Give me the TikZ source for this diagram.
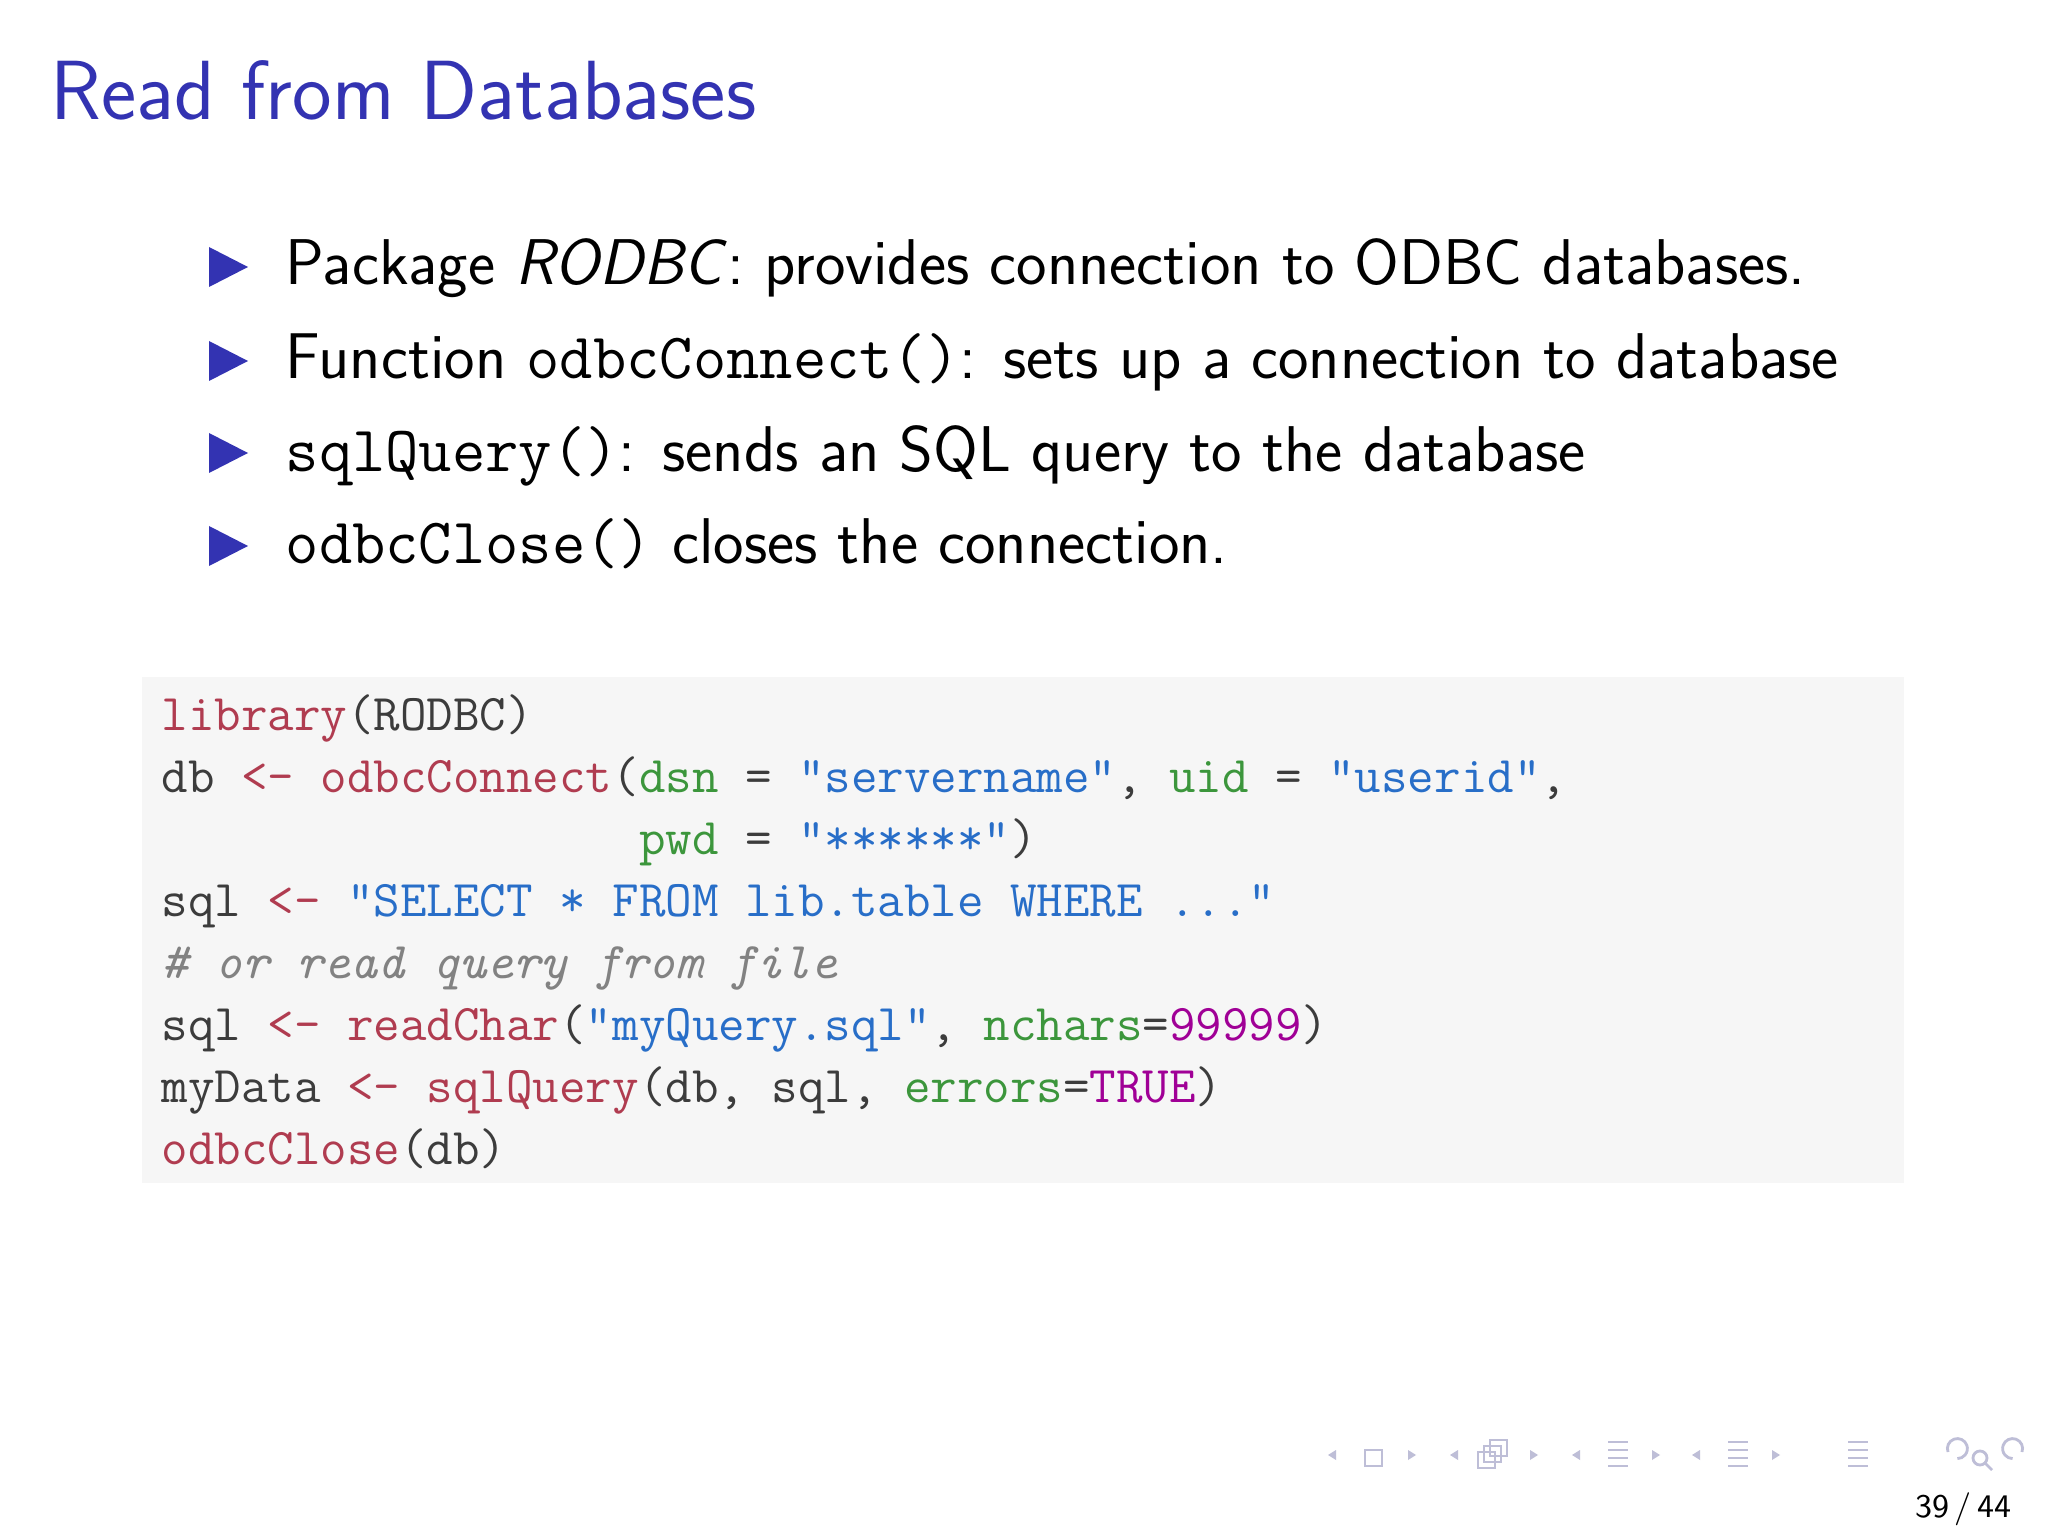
\documentclass[tikz,border=0pt]{standalone}
\usepackage{xcolor}
\definecolor{ttl}{RGB}{51,51,178}
\definecolor{kw}{RGB}{176,60,80}
\definecolor{str}{RGB}{40,110,200}
\definecolor{arg}{RGB}{60,150,60}
\definecolor{num}{RGB}{160,0,150}
\definecolor{cmt}{RGB}{130,130,130}
\definecolor{txt}{RGB}{60,60,60}
\definecolor{codebg}{RGB}{246,246,246}
\definecolor{nav}{RGB}{190,190,215}
\begin{document}
\begin{tikzpicture}[x=1cm,y=1cm,
  title/.style={anchor=base west,inner sep=0pt,font=\fontsize{23.9pt}{29pt}\selectfont\sffamily,text=ttl},
  bul/.style={anchor=base west,inner sep=0pt,font=\fontsize{18.4pt}{22pt}\selectfont\sffamily},
  code/.style={anchor=base west,inner sep=0pt,font=\fontsize{14.65pt}{17pt}\selectfont\ttfamily,text=txt},
  tri/.style={fill=ttl}]
\useasboundingbox (0,0) rectangle (20.48,-15.36);
\fill[white] (0,0) rectangle (20.48,-15.36);
\node[title] (t) at (0.50,-1.20) {Read from Databases};
\foreach \y/\n in {2.85/a,3.79/b,4.71/c,5.64/d}{
  \fill[tri] (2.09,-\y+0.38) -- (2.48,-\y+0.18) -- (2.09,-\y-0.02) -- cycle;}
\node[bul] (b1) at (2.85,-2.85) {Package \textit{RODBC}: provides connection to ODBC databases.};
\node[bul] (b2) at (2.85,-3.79) {Function \texttt{odbcConnect()}: sets up a connection to database};
\node[bul] (b3) at (2.85,-4.71) {\texttt{sqlQuery()}: sends an SQL query to the database};
\node[bul] (b4) at (2.85,-5.64) {\texttt{odbcClose()} closes the connection.};
\fill[codebg] (1.42,-6.77) rectangle (19.04,-11.83);
\node[code] (c1) at (1.61,-7.30) {\textcolor{kw}{library}(RODBC)};
\node[code] (c2) at (1.61,-7.92) {db \textcolor{kw}{<-} \textcolor{kw}{odbcConnect}(\textcolor{arg}{dsn} = \textcolor{str}{"servername"}, \textcolor{arg}{uid} = \textcolor{str}{"userid"},};
\node[code] (c3) at (1.61,-8.54) {\phantom{db <- odbcConnect(}\textcolor{arg}{pwd} = \textcolor{str}{"******"})};
\node[code] (c4) at (1.61,-9.16) {sql \textcolor{kw}{<-} \textcolor{str}{"SELECT * FROM lib.table WHERE ..."}};
\node[code] (c5) at (1.61,-9.78) {\textcolor{cmt}{\itshape \# or read query from file}};
\node[code] (c6) at (1.61,-10.40) {sql \textcolor{kw}{<-} \textcolor{kw}{readChar}(\textcolor{str}{"myQuery.sql"}, \textcolor{arg}{nchars}=\textcolor{num}{99999})};
\node[code] (c7) at (1.61,-11.02) {myData \textcolor{kw}{<-} \textcolor{kw}{sqlQuery}(db, sql, \textcolor{arg}{errors}=\textcolor{num}{TRUE})};
\node[code] (c8) at (1.61,-11.64) {\textcolor{kw}{odbcClose}(db)};
% navigation symbols
\begin{scope}[nav,line width=0.8pt]
\fill (13.36,-14.60) -- (13.28,-14.55) -- (13.36,-14.50) -- cycle;
\draw (13.65,-14.50) rectangle (13.82,-14.66);
\fill (14.08,-14.50) -- (14.16,-14.55) -- (14.08,-14.60) -- cycle;
\fill (14.58,-14.60) -- (14.50,-14.55) -- (14.58,-14.50) -- cycle;
\draw (14.78,-14.52) rectangle (14.95,-14.68) (14.84,-14.46) rectangle (15.01,-14.62) (14.90,-14.40) rectangle (15.07,-14.56);
\fill (15.30,-14.50) -- (15.38,-14.55) -- (15.30,-14.60) -- cycle;
\fill (15.80,-14.60) -- (15.72,-14.55) -- (15.80,-14.50) -- cycle;
\foreach \yy in {14.42,14.50,14.58,14.66} \draw (16.08,-\yy) -- (16.28,-\yy);
\fill (16.52,-14.50) -- (16.60,-14.55) -- (16.52,-14.60) -- cycle;
\fill (17.00,-14.60) -- (16.92,-14.55) -- (17.00,-14.50) -- cycle;
\foreach \yy in {14.42,14.50,14.58,14.66} \draw (17.28,-\yy) -- (17.48,-\yy);
\fill (17.72,-14.50) -- (17.80,-14.55) -- (17.72,-14.60) -- cycle;
\foreach \yy in {14.42,14.50,14.58,14.66} \draw (18.48,-\yy) -- (18.68,-\yy);
\draw (19.48,-14.52) arc (200:-90:0.10);
\draw (19.80,-14.58) circle (0.07) (19.85,-14.63) -- (19.92,-14.70);
\draw (20.22,-14.52) arc (-20:270:0.10);
\end{scope}
\node[anchor=base east,inner sep=0pt,font=\fontsize{9.4pt}{11pt}\selectfont\sffamily] (pg) at (20.12,-15.17) {39\,/\,44};
\end{tikzpicture}
\end{document}
